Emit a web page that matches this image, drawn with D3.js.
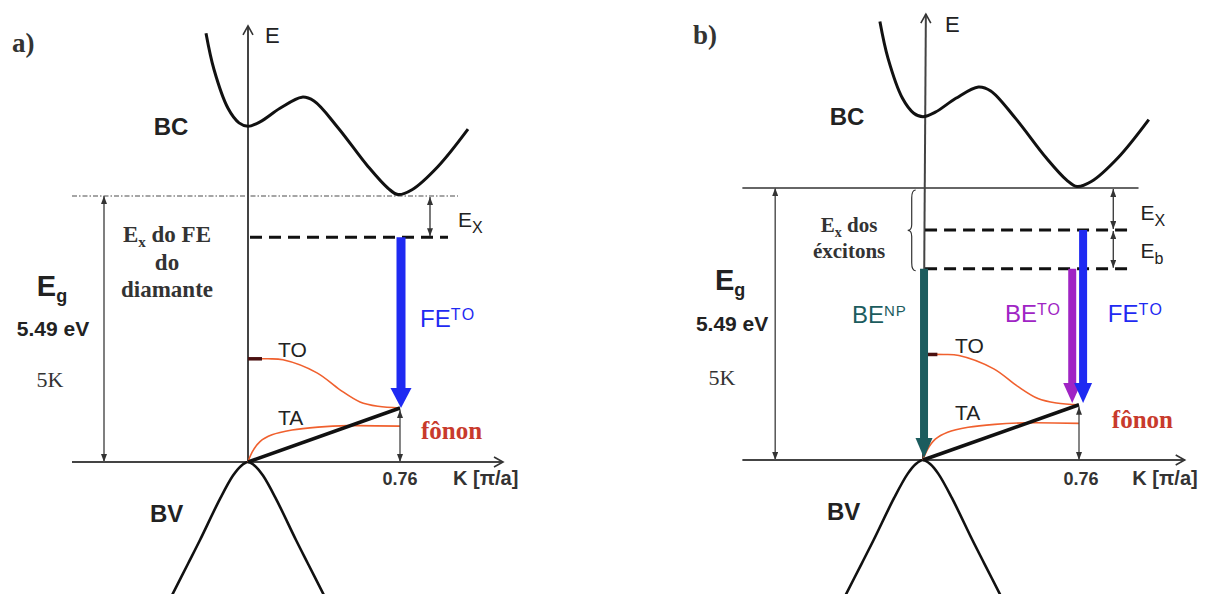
<!DOCTYPE html>
<html>
<head>
<meta charset="utf-8">
<script src="https://cdn.jsdelivr.net/npm/d3@7.9.0/dist/d3.min.js"></script>
<style>
  body { margin: 0; background: #fff; }
  svg { display: block; }
</style>
</head>
<body>
<svg id="chart" width="1213" height="594"></svg>
<script>
// ---- data, K in [pi/a], E in eV ----
const bcK = [-0.21, -0.17, -0.1, -0.045, 0, 0.06, 0.16, 0.27, 0.33, 0.45, 0.6, 0.7, 0.75, 0.82, 0.95, 1.1];
const bcE = [8.85, 8.1, 7.3, 7.0, 6.93, 7.02, 7.3, 7.53, 7.45, 6.9, 6.1, 5.65, 5.52, 5.62, 6.1, 6.87];
const bvK = [-0.38, -0.3, -0.24, -0.14, -0.075, -0.035, 0, 0.035, 0.075, 0.14, 0.24, 0.3, 0.38];
const bvE = [-2.75, -2.1, -1.61, -0.76, -0.28, -0.08, 0, -0.08, -0.28, -0.76, -1.61, -2.1, -2.75];
const toK = [0, 0.1, 0.175, 0.345, 0.46, 0.56, 0.65, 0.76];
const toE = [2.13, 2.13, 2.11, 1.84, 1.49, 1.24, 1.15, 1.115];
const taK = [0, 0.02, 0.06, 0.12, 0.22, 0.35, 0.5, 0.76];
const taE = [0, 0.2, 0.42, 0.56, 0.66, 0.72, 0.75, 0.74];

const gapE = 5.49;      // Eg
const feE = 4.64;       // free exciton level
const beE = 3.86;       // bound exciton level
const phononK = 0.76;
const phononE = 1.115;
const kTickLabel = "0.76";

const sans = "'Liberation Sans', Arial, sans-serif";
const serif = "'Liberation Serif', 'Times New Roman', serif";
const blue = "#1f2af2", magenta = "#a024c4", teal = "#1c5c5e", orange = "#f0602e";

const svg = d3.select("#chart");
const defs = svg.append("defs");
defs.append("marker").attr("id", "tip")
  .attr("markerUnits", "userSpaceOnUse").attr("markerWidth", 8).attr("markerHeight", 6)
  .attr("refX", 8).attr("refY", 3).attr("orient", "auto-start-reverse")
  .append("path").attr("d", "M0,0 L8,3 L0,6 Z").attr("fill", "#333");
defs.append("marker").attr("id", "open")
  .attr("markerUnits", "userSpaceOnUse").attr("markerWidth", 12).attr("markerHeight", 12)
  .attr("refX", 10).attr("refY", 6).attr("orient", "auto")
  .append("path").attr("d", "M1,1 L10,6 L1,11").attr("fill", "none").attr("stroke", "#333").attr("stroke-width", 1.6);

const zip = (a, b) => a.map((v, i) => [v, b[i]]);

// text with sub/superscripts: parts = [[text, size, dy], ...]
function label(g, x, y, parts, opts) {
  const t = g.append("text").attr("x", x).attr("y", y)
    .attr("font-family", opts.font || sans)
    .attr("font-weight", opts.bold ? "bold" : "normal")
    .attr("fill", opts.color || "#222")
    .attr("text-anchor", opts.anchor || "start");
  let shift = 0;
  parts.forEach(([s, size, dy]) => {
    const sp = t.append("tspan").attr("font-size", size).text(s);
    const d = (dy || 0) - shift;
    if (d) sp.attr("dy", d);
    shift = dy || 0;
    if (opts.ls && size < 20) sp.attr("letter-spacing", opts.ls);
  });
  return t;
}

function thickArrow(g, x0, y0, yTip, color, w, headW, headL) {
  g.append("line").attr("x1", x0).attr("x2", x0).attr("y1", y0).attr("y2", yTip - headL + 1)
    .attr("stroke", color).attr("stroke-width", w);
  g.append("path")
    .attr("d", `M${x0 - headW / 2},${yTip - headL} L${x0 + headW / 2},${yTip - headL} L${x0},${yTip} Z`)
    .attr("fill", color);
}

function drawPanel(p) {
  const x = d3.scaleLinear().domain([0, phononK]).range(p.xr);
  const y = d3.scaleLinear().domain([0, gapE]).range(p.yr);
  const g = svg.append("g");
  const line = d3.line().x(d => x(d[0])).y(d => y(d[1])).curve(d3.curveCatmullRom);

  // top (Eg) line
  g.append("line").attr("x1", x(-0.88)).attr("x2", x(1.05)).attr("y1", y(gapE)).attr("y2", y(gapE))
    .attr("stroke", p.solidTop ? "#333" : "#888").attr("stroke-width", 1.6)
    .attr("stroke-dasharray", p.solidTop ? null : "5,2,1.5,2");
  // K axis
  g.append("line").attr("x1", x(-0.88)).attr("x2", x(1.275)).attr("y1", y(0)).attr("y2", y(0))
    .attr("stroke", "#444").attr("stroke-width", 2).attr("marker-end", "url(#open)");
  // E axis
  g.append("line").attr("x1", x(0)).attr("x2", x(p.axisTilt)).attr("y1", y(0)).attr("y2", y(9.0))
    .attr("stroke", "#444").attr("stroke-width", 2).attr("marker-end", "url(#open)");

  // bands
  g.append("path").attr("d", line(zip(bcK, bcE))).attr("fill", "none").attr("stroke", "#111").attr("stroke-width", 3);
  g.append("path").attr("d", line(zip(bvK, bvE))).attr("fill", "none").attr("stroke", "#111").attr("stroke-width", 2.6);

  // Eg double arrow
  g.append("line").attr("x1", x(-0.72)).attr("x2", x(-0.72)).attr("y1", y(0)).attr("y2", y(gapE))
    .attr("stroke", "#555").attr("stroke-width", 1.5)
    .attr("marker-start", "url(#tip)").attr("marker-end", "url(#tip)");

  // exciton levels
  p.levels.forEach(lv => {
    g.append("line").attr("x1", x(0.01)).attr("x2", x(1.0)).attr("y1", y(lv)).attr("y2", y(lv))
      .attr("stroke", "#111").attr("stroke-width", 3).attr("stroke-dasharray", "12,7");
  });
  const stops = [gapE].concat(p.levels);
  for (let i = 0; i < stops.length - 1; i++) {
    g.append("line").attr("x1", x(p.exK)).attr("x2", x(p.exK)).attr("y1", y(stops[i]) + 1).attr("y2", y(stops[i + 1]) - 1)
      .attr("stroke", "#333").attr("stroke-width", 1.3)
      .attr("marker-start", "url(#tip)").attr("marker-end", "url(#tip)");
  }

  // phonon dispersion
  g.append("path").attr("d", line(zip(toK, toE))).attr("fill", "none").attr("stroke", orange).attr("stroke-width", 1.6);
  g.append("path").attr("d", line(zip(taK, taE))).attr("fill", "none").attr("stroke", orange).attr("stroke-width", 1.6);
  g.append("line").attr("x1", x(0)).attr("x2", x(0.07)).attr("y1", y(toE[0])).attr("y2", y(toE[0]))
    .attr("stroke", "#4a1010").attr("stroke-width", 3.5);
  g.append("line").attr("x1", x(phononK)).attr("x2", x(phononK)).attr("y1", y(0)).attr("y2", y(phononE) + 2)
    .attr("stroke", "#444").attr("stroke-width", 1.3)
    .attr("marker-start", "url(#tip)").attr("marker-end", "url(#tip)");
  g.append("line").attr("x1", x(0)).attr("x2", x(phononK)).attr("y1", y(0)).attr("y2", y(phononE))
    .attr("stroke", "#111").attr("stroke-width", 3.5);

  // recombination arrows
  p.arrows.forEach(a => thickArrow(g, x(a.k), y(a.from), y(a.to), a.color, a.w, a.headW, a.headL));

  // brace
  if (p.brace) {
    const xb = x(-0.055), yt = y(gapE) + 2, yb = y(beE) + 2, ym = (yt + yb) / 2;
    g.append("path")
      .attr("d", `M${xb + 4},${yt} Q${xb},${yt} ${xb},${yt + 8} L${xb},${ym - 6} Q${xb},${ym} ${xb - 4},${ym} Q${xb},${ym} ${xb},${ym + 6} L${xb},${yb - 8} Q${xb},${yb} ${xb + 4},${yb}`)
      .attr("fill", "none").attr("stroke", "#333").attr("stroke-width", 1.2);
  }

  // labels
  label(g, p.title[0], p.title[1], [[p.title[2], 27]], { font: serif, bold: true, color: "#333" });
  p.labels.forEach(l => label(g, x(l.k), y(l.e), l.parts, l));
}

drawPanel({
  xr: [248, 400], yr: [462, 196], axisTilt: 0, solidTop: false,
  levels: [feE], exK: 0.91, brace: false,
  title: [12, 52, "a)"],
  arrows: [{ k: 0.765, from: feE, to: phononE, color: blue, w: 9, headW: 21, headL: 20 }],
  labels: [
    { k: -0.385, e: 6.75, parts: [["BC", 24]], bold: true, anchor: "middle" },
    { k: -0.49, e: -1.24, parts: [["BV", 24]], bold: true },
    { k: 0.085, e: 8.65, parts: [["E", 22]] },
    { k: -0.98, e: 3.42, parts: [["E", 29], ["g", 18, 6]], bold: true, anchor: "middle" },
    { k: -0.975, e: 2.6, parts: [["5.49 eV", 21]], bold: true, anchor: "middle" },
    { k: -0.99, e: 1.55, parts: [["5K", 22]], font: serif, anchor: "middle", color: "#333" },
    { k: -0.405, e: 4.54, parts: [["E", 23], ["x", 15, 5], [" do FE", 23]], font: serif, bold: true, anchor: "middle", color: "#333" },
    { k: -0.405, e: 3.96, parts: [["do", 23]], font: serif, bold: true, anchor: "middle", color: "#333" },
    { k: -0.405, e: 3.41, parts: [["diamante", 23]], font: serif, bold: true, anchor: "middle", color: "#333" },
    { k: 1.05, e: 4.85, parts: [["E", 21], ["X", 16, 6]] },
    { k: 0.86, e: 2.79, parts: [["FE", 24], ["TO", 16, -7]], color: blue, ls: 1.5 },
    { k: 0.15, e: 2.17, parts: [["TO", 21]] },
    { k: 0.15, e: 0.76, parts: [["TA", 21]] },
    { k: 0.865, e: 0.48, parts: [["fônon", 25]], font: serif, bold: true, color: "#c83a2c" },
    { k: 0.76, e: -0.47, parts: [[kTickLabel, 18]], bold: true, anchor: "middle", color: "#333" },
    { k: 1.025, e: -0.47, parts: [["K [π/a]", 20]], bold: true, color: "#333" }
  ]
});

drawPanel({
  xr: [923, 1079], yr: [460, 188], axisTilt: 0.014, solidTop: true,
  levels: [feE, beE], exK: 0.927, brace: true,
  title: [693, 44, "b)"],
  arrows: [
    { k: 0.005, from: beE, to: 0.04, color: teal, w: 8, headW: 17, headL: 20 },
    { k: 0.727, from: beE, to: 1.15, color: magenta, w: 8, headW: 18, headL: 20 },
    { k: 0.78, from: feE, to: 1.15, color: blue, w: 8, headW: 18, headL: 20 }
  ],
  labels: [
    { k: -0.37, e: 6.77, parts: [["BC", 24]], bold: true, anchor: "middle" },
    { k: -0.468, e: -1.21, parts: [["BV", 24]], bold: true },
    { k: 0.107, e: 8.63, parts: [["E", 22]] },
    { k: -0.94, e: 3.43, parts: [["E", 29], ["g", 18, 6]], bold: true, anchor: "middle" },
    { k: -0.93, e: 2.6, parts: [["5.49 eV", 21]], bold: true, anchor: "middle" },
    { k: -0.98, e: 1.52, parts: [["5K", 22]], font: serif, anchor: "middle", color: "#333" },
    { k: -0.36, e: 4.6, parts: [["E", 21], ["x", 14, 5], [" dos", 21]], font: serif, bold: true, anchor: "middle", color: "#333" },
    { k: -0.36, e: 4.08, parts: [["éxcitons", 21]], font: serif, bold: true, anchor: "middle", color: "#333" },
    { k: 1.06, e: 4.85, parts: [["E", 21], ["X", 16, 6]] },
    { k: 1.06, e: 4.08, parts: [["E", 21], ["b", 16, 6]] },
    { k: -0.346, e: 2.77, parts: [["BE", 24], ["NP", 15, -7]], color: teal, ls: 1 },
    { k: 0.4, e: 2.79, parts: [["BE", 24], ["TO", 16, -7]], color: magenta, ls: 1 },
    { k: 0.9, e: 2.79, parts: [["FE", 24], ["TO", 16, -7]], color: blue, ls: 1.5 },
    { k: 0.156, e: 2.16, parts: [["TO", 21]] },
    { k: 0.156, e: 0.81, parts: [["TA", 21]] },
    { k: 0.92, e: 0.65, parts: [["fônon", 25]], font: serif, bold: true, color: "#c83a2c" },
    { k: 0.77, e: -0.5, parts: [[kTickLabel, 18]], bold: true, anchor: "middle", color: "#333" },
    { k: 1.02, e: -0.5, parts: [["K [π/a]", 20]], bold: true, color: "#333" }
  ]
});
</script>
</body>
</html>
